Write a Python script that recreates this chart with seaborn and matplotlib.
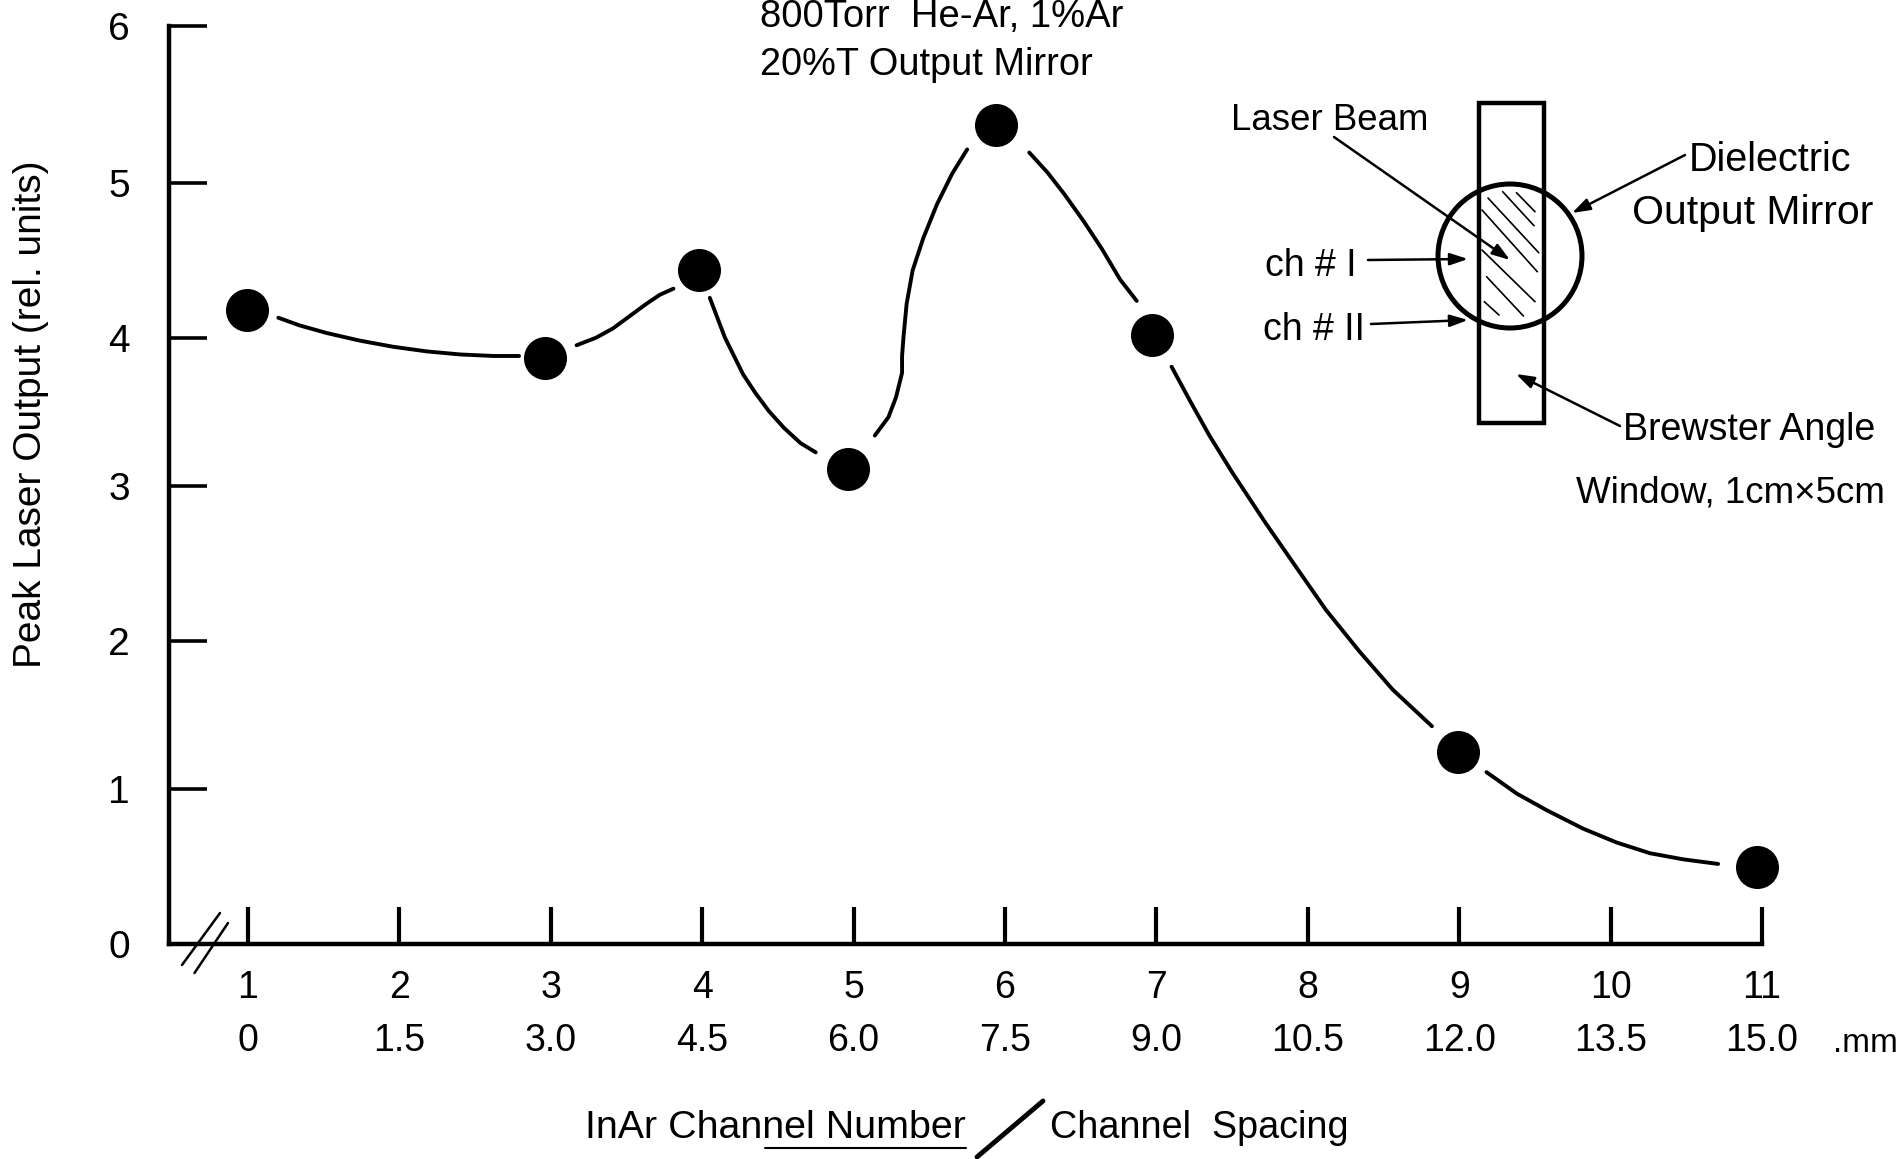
import matplotlib
matplotlib.use('Agg')
import matplotlib.pyplot as plt
import pandas as pd
import seaborn as sns
from matplotlib.patches import Circle, Rectangle

# measured points, as they sit on the sheet
channel = [0.99, 2.96, 3.98, 4.96, 5.94, 6.97, 8.99, 10.97]
peak_output = [4.14, 3.83, 4.40, 3.10, 5.35, 3.98, 1.25, 0.50]

# hand drawn curve, broken around every point
seg1_x = [1.20, 1.34, 1.52, 1.74, 1.96, 2.18, 2.40, 2.62, 2.79]
seg1_y = [4.09, 4.04, 3.99, 3.94, 3.90, 3.87, 3.85, 3.84, 3.84]
seg2_x = [3.17, 3.30, 3.41, 3.52, 3.63, 3.72, 3.81]
seg2_y = [3.91, 3.96, 4.02, 4.10, 4.18, 4.24, 4.28]
seg3_x = [4.05, 4.10, 4.15, 4.21, 4.27, 4.35, 4.44, 4.54, 4.65, 4.75]
seg3_y = [4.22, 4.09, 3.96, 3.84, 3.72, 3.60, 3.48, 3.37, 3.27, 3.21]
seg4_x = [5.14, 5.23, 5.28, 5.32, 5.32, 5.33, 5.35, 5.39, 5.46, 5.55, 5.65, 5.75]
seg4_y = [3.32, 3.44, 3.57, 3.73, 3.84, 3.97, 4.18, 4.40, 4.61, 4.83, 5.03, 5.19]
seg5_x = [6.16, 6.28, 6.39, 6.52, 6.64, 6.76, 6.87]
seg5_y = [5.17, 5.04, 4.90, 4.72, 4.54, 4.34, 4.20]
seg6_x = [7.10, 7.22, 7.35, 7.50, 7.72, 7.93, 8.12, 8.34, 8.56, 8.82]
seg6_y = [3.77, 3.55, 3.32, 3.08, 2.75, 2.45, 2.18, 1.91, 1.66, 1.42]
seg7_x = [9.18, 9.38, 9.58, 9.82, 10.04, 10.26, 10.48, 10.71]
seg7_y = [1.12, 0.98, 0.87, 0.75, 0.66, 0.59, 0.55, 0.52]
segments = [(seg1_x, seg1_y), (seg2_x, seg2_y), (seg3_x, seg3_y), (seg4_x, seg4_y),
            (seg5_x, seg5_y), (seg6_x, seg6_y), (seg7_x, seg7_y)]

x_ticks = [1, 2, 3, 4, 5, 6, 7, 8, 9, 10, 11]
spacing_labels = ['0', '1.5', '3.0', '4.5', '6.0', '7.5', '9.0', '10.5', '12.0', '13.5', '15.0']
# ticks are hand ruled, not quite even
y_ticks = [0, 1.01, 1.98, 2.99, 3.96, 4.97, 6]
y_labels = ['0', '1', '2', '3', '4', '5', '6']

W, H = 1903, 1159

sns.set_theme(style='ticks')
plt.rcParams['font.family'] = ['Liberation Sans', 'DejaVu Sans']
plt.rcParams['text.color'] = 'black'
plt.rcParams['xtick.labelcolor'] = 'black'
plt.rcParams['ytick.labelcolor'] = 'black'

fig = plt.figure(figsize=(W / 100, H / 100), dpi=100)
ax = fig.add_axes([169 / W, (H - 943.5) / H, (1762 - 169) / W, 918 / H])

for sx, sy in segments:
    line = sns.lineplot(x=sx, y=sy, ax=ax, color='black', linewidth=2.8, sort=False, estimator=None)
for l in ax.get_lines():
    l.set_solid_capstyle('round')
df = pd.DataFrame({'channel': channel, 'peak': peak_output})
sns.scatterplot(data=df, x='channel', y='peak', ax=ax, color='black', s=960,
                linewidth=0, clip_on=False, zorder=5)

ax.set_xlim(0.478, 11)
ax.set_ylim(0, 6)
ax.set_xticks(x_ticks)
ax.set_xticklabels([f'{a}\n{b}' for a, b in zip(x_ticks, spacing_labels)], fontsize=27, linespacing=1.6)
ax.set_yticks(y_ticks)
ax.set_yticklabels(y_labels, fontsize=28)
ax.tick_params(axis='x', direction='in', length=27, width=3, pad=19, color='black')
ax.tick_params(axis='y', direction='in', length=27, width=2.6, pad=28, color='black')
ax.set_xlabel('')
ax.set_ylabel('')
sns.despine(ax=ax)
for side in ['left', 'bottom']:
    ax.spines[side].set_linewidth(3.2)
    ax.spines[side].set_color('black')

# everything else is placed in picture pixels
over = fig.add_axes([0, 0, 1, 1])
over.set_xlim(0, W)
over.set_ylim(H, 0)
over.axis('off')
over.patch.set_alpha(0)


def txt(x, y, s, size=27, **kw):
    over.text(x, y + 3, s, fontsize=size, va='center', ha='left', color='black', **kw)


def arrow(x0, y0, x1, y1):
    over.annotate('', xy=(x1, y1), xytext=(x0, y0),
                  arrowprops=dict(arrowstyle='-|>,head_length=0.9,head_width=0.3', color='black',
                                  lw=1.8, shrinkA=0, shrinkB=0))


over.text(31, 414, 'Peak Laser Output (rel. units)', fontsize=28, rotation=90, va='center', ha='center', color='black')
txt(760, 14, '800Torr  He-Ar, 1%Ar', size=27.5)
txt(760, 62, '20%T Output Mirror', size=27.3)
txt(585, 1125, 'InAr Channel Number', size=28.4)
txt(1050, 1125, 'Channel  Spacing', size=27.2)
over.text(1898, 1043, '.mm', fontsize=24, va='center', ha='right', color='black')
over.plot([765, 966], [1148, 1148], color='black', lw=1.5)
over.plot([977, 1043], [1157, 1101], color='black', lw=3.5)

# axis break
over.plot([182, 220], [965, 913], color='black', lw=1.8)
over.plot([194.5, 228], [973, 923], color='black', lw=1.8)

# inset sketch
over.add_patch(Rectangle((1479, 103), 65, 320, fill=False, ec='black', lw=3.2))
over.add_patch(Circle((1510, 256), 72, fill=False, ec='black', lw=3.6))
hatch_lines = [(1516.5, 192.7, 1535, 211.7), (1502.7, 191.7, 1534, 225.7), (1488, 198, 1538.7, 252.7),
               (1482, 210, 1537.3, 271.7), (1482, 250, 1535, 301.7), (1486.6, 276.7, 1523.4, 316),
               (1484.3, 301.7, 1499, 315)]
for x0, y0, x1, y1 in hatch_lines:
    over.plot([x0, x1], [y0, y1], color='black', lw=1.2)

arrow(1334, 137, 1510, 260)
arrow(1368, 260, 1468, 259)
arrow(1371, 324, 1468, 320)
arrow(1685, 155, 1572, 213)
arrow(1620, 426, 1516, 374)

txt(1231, 118, 'Laser Beam', size=26.4)
txt(1689, 157, 'Dielectric', size=28.5)
txt(1632, 210, 'Output Mirror', size=29.5)
txt(1265, 263, 'ch # I')
txt(1263, 327, 'ch # II')
txt(1623, 427, 'Brewster Angle')
txt(1576, 490, 'Window, 1cm×5cm', size=26.5)

fig.savefig('out.png', dpi=100, facecolor='white')
